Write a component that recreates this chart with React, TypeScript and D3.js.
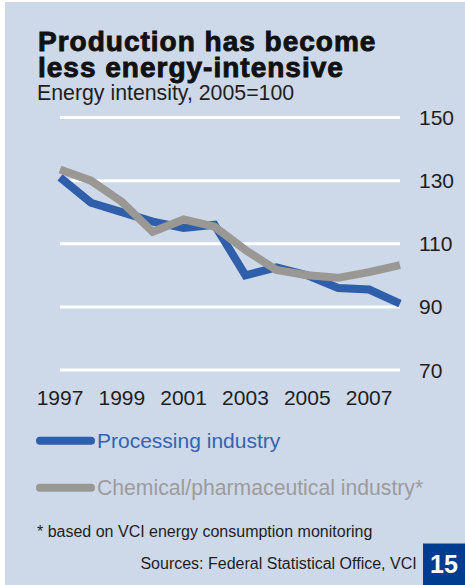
import React from "react";
import * as d3 from "d3";

// Energy intensity index, 2005 = 100
const years = [1997, 1998, 1999, 2000, 2001, 2002, 2003, 2004, 2005, 2006, 2007, 2008];
const processingIndustry = [131, 123, 120, 117, 115, 116, 100, 102.5, 100, 96, 95.5, 91];
const chemicalIndustry = [133.5, 130, 123.3, 113.8, 117.7, 115.4, 108, 101.7, 100, 99.2, 101, 103.2];
const yTicks = [150, 130, 110, 90, 70];
const xTickYears = [1997, 1999, 2001, 2003, 2005, 2007];
const titleLines = ["Production has become", "less energy-intensive"];

const W = 465;
const H = 585;
const BG = "#CDD8E9";
const BLUE = "#2F5EAB";
const GREY = "#9A9895";
const TEXT = "#1E1E1E";
const FONT = "'Liberation Sans', Arial, Helvetica, sans-serif";

export default function App() {
  const x = d3.scaleLinear().domain([1997, 2008]).range([60, 400]);
  const y = d3.scaleLinear().domain([70, 150]).range([370, 117.5]);

  const line = d3
    .line<number>()
    .x((_, i) => x(years[i]))
    .y((v) => y(v));

  return (
    <div style={{ position: "fixed", left: 0, top: 0, width: W, height: H }}>
      <svg width={W} height={H} style={{ display: "block" }} fontFamily={FONT}>
        <rect x={0} y={0} width={W} height={H} fill="#ffffff" />
        <rect x={5} y={2} width={W - 5} height={H - 2} fill={BG} />

        {/* Title block */}
        <text
          x={38}
          y={51}
          fill="#111111"
          stroke="#111111"
          strokeWidth={0.9}
          fontWeight={900}
          fontSize={28}
          letterSpacing={1}
        >
          {titleLines.map((t, i) => (
            <tspan key={t} x={38} dy={i === 0 ? 0 : 25.5}>
              {t}
            </tspan>
          ))}
        </text>
        <text x={37} y={100} fontSize={21.3} fill={TEXT}>
          Energy intensity, 2005=100
        </text>

        {/* Gridlines and value axis */}
        {yTicks.map((t) => (
          <g key={t}>
            <line x1={60} x2={400} y1={y(t)} y2={y(t)} stroke="#ffffff" strokeWidth={3} />
            <text x={419} y={y(t) + 7.5} fontSize={21} fill={TEXT}>
              {t}
            </text>
          </g>
        ))}

        {/* Year axis */}
        {xTickYears.map((yr) => (
          <text key={yr} x={x(yr)} y={405} fontSize={21} fill={TEXT} textAnchor="middle">
            {yr}
          </text>
        ))}

        {/* Series */}
        <path d={line(processingIndustry) ?? ""} fill="none" stroke={BLUE} strokeWidth={8} strokeLinejoin="miter" />
        <path d={line(chemicalIndustry) ?? ""} fill="none" stroke={GREY} strokeWidth={8} strokeLinejoin="miter" />

        {/* Legend */}
        <line x1={40} x2={91} y1={440.7} y2={440.7} stroke={BLUE} strokeWidth={8} strokeLinecap="round" />
        <text x={97} y={448} fontSize={21} fill="#3364B1">
          Processing industry
        </text>
        <line x1={40} x2={91} y1={487.7} y2={487.7} stroke={GREY} strokeWidth={8} strokeLinecap="round" />
        <text x={97} y={495} fontSize={21.2} fill="#9C9C9C">
          Chemical/pharmaceutical industry*
        </text>

        {/* Notes */}
        <text x={37} y={537} fontSize={16} fill={TEXT}>
          * based on VCI energy consumption monitoring
        </text>
        <text x={416.7} y={568.5} fontSize={16} fill={TEXT} textAnchor="end">
          Sources: Federal Statistical Office, VCI
        </text>

        {/* Page badge */}
        <rect x={423} y={543.5} width={W - 423} height={H - 543.5} fill="#003C90" />
        <text x={444} y={573} fontSize={25} fontWeight={700} fill="#ffffff" textAnchor="middle">
          15
        </text>
      </svg>
    </div>
  );
}
